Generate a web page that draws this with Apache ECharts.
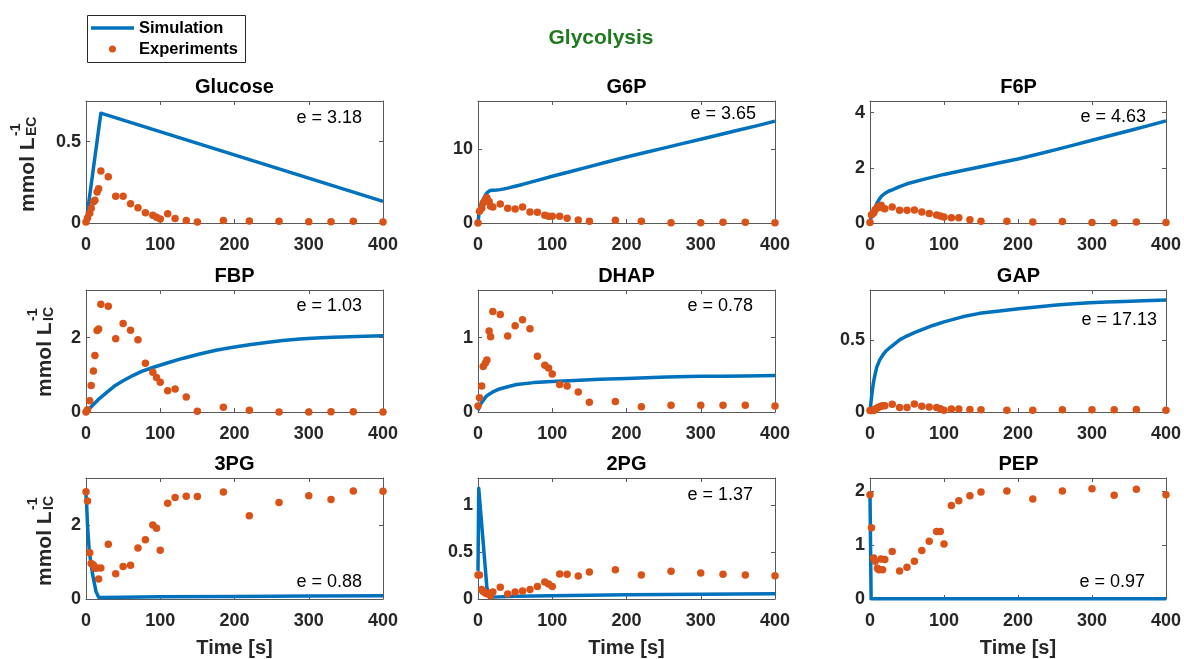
<!DOCTYPE html>
<html><head><meta charset="utf-8">
<script src="https://cdn.jsdelivr.net/npm/echarts@6/dist/echarts.min.js"></script>
<style>html,body{margin:0;padding:0;background:#fff}#c{width:1184px;height:659px}</style>
</head><body><div id="c"></div>
<script>
// ---------- DATA ----------
const expTime = [0,2,5,7,10,12,15,17,20,30,40,50,60,70,80,90,95,100,110,120,135,150,185,220,260,300,330,360,400];

const glucoseExp = [0.006,0.03,0.06,0.09,0.13,0.14,0.19,0.21,0.32,0.285,0.165,0.165,0.118,0.094,0.063,0.047,0.035,0.024,0.057,0.027,0.016,0.006,0.016,0.012,0.01,0.008,0.008,0.01,0.006];
const g6pExp = [0,1.6,2.0,2.7,3.15,3.4,2.9,2.25,2.15,2.55,2.0,1.9,2.15,1.5,1.45,1.05,0.9,0.9,0.9,0.63,0.4,0.22,0.36,0.22,0.05,0.05,0.1,0.1,0.05];
const f6pExp = [0.02,0.3,0.36,0.48,0.55,0.6,0.64,0.55,0.52,0.58,0.46,0.46,0.47,0.4,0.34,0.29,0.25,0.22,0.19,0.19,0.12,0.06,0.06,0.04,0.05,0.02,0.01,0.04,0.02];
const fbpExp = [0,0.06,0.3,0.71,1.1,1.52,2.19,2.23,2.9,2.84,1.97,2.38,2.2,1.94,1.31,1.07,0.93,0.8,0.57,0.62,0.4,0.02,0.125,0.05,0,0,0.01,0.01,0];
const dhapExp = [0.08,0.19,0.35,0.61,0.66,0.7,1.09,1.01,1.35,1.31,1.02,1.16,1.24,1.12,0.75,0.63,0.59,0.51,0.37,0.35,0.27,0.13,0.14,0.07,0.09,0.09,0.09,0.09,0.08];
const gapExp = [0.01,0.01,0.01,0.02,0.028,0.035,0.04,0.044,0.044,0.053,0.032,0.032,0.055,0.04,0.035,0.032,0.023,0.012,0.02,0.02,0.018,0.016,0.012,0.012,0.016,0.016,0.016,0.018,0.012];
const pg3Exp = [2.9,2.65,1.25,0.96,0.92,0.83,0.84,0.54,0.84,1.48,0.68,0.88,0.91,1.38,1.6,2.0,1.91,1.32,2.59,2.74,2.78,2.77,2.89,2.25,2.61,2.79,2.69,2.92,2.91];
const pg2Exp = [0.256,0.256,0.1,0.08,0.063,0.056,0.063,0.035,0.074,0.126,0.053,0.074,0.084,0.1,0.133,0.18,0.16,0.133,0.267,0.263,0.246,0.288,0.312,0.256,0.295,0.277,0.263,0.256,0.249];
const pepExp = [1.93,1.32,0.76,0.70,0.57,0.54,0.74,0.54,0.73,0.88,0.52,0.59,0.70,0.90,1.07,1.25,1.25,1.02,1.73,1.82,1.91,1.98,2.0,1.85,2.0,2.04,1.92,2.03,1.93];

const glucoseSimT = [0,20,400];
const glucoseSim  = [0,0.675,0.133];
const g6pSimT = [0,1,2,3,5,7,10,12,14,16,18,20,25,30,40,50,60,80,100,125,150,175,200,225,250,275,300,325,350,375,400];
const g6pSim  = [0,1.0,1.8,2.2,2.7,3.2,3.75,4.05,4.25,4.37,4.4,4.42,4.44,4.5,4.7,4.95,5.2,5.75,6.3,6.95,7.6,8.25,8.9,9.5,10.1,10.7,11.3,11.9,12.5,13.1,13.74];
const f6pSimT = [0,1,2,3,5,7,10,13,16,20,25,30,40,50,75,100,125,150,175,200,225,250,275,300,325,350,375,400];
const f6pSim  = [0,0.15,0.25,0.33,0.45,0.58,0.75,0.88,0.98,1.07,1.15,1.2,1.32,1.42,1.6,1.76,1.9,2.04,2.18,2.32,2.48,2.65,2.82,3.0,3.17,3.34,3.52,3.70];
const fbpSimT = [0,2,5,10,18,30,40,50,63,75,89,108,130,153,175,198,220,243,265,288,310,333,365,400];
const fbpSim  = [0,0.04,0.1,0.2,0.36,0.56,0.72,0.84,0.98,1.09,1.19,1.31,1.44,1.56,1.66,1.74,1.81,1.87,1.92,1.96,1.99,2.01,2.03,2.05];
const dhapSimT = [0,2,5,8,11,15,20,29,40,52,75,100,130,164,200,254,300,330,360,400];
const dhapSim  = [0.02,0.08,0.13,0.17,0.21,0.24,0.27,0.31,0.34,0.37,0.395,0.41,0.425,0.44,0.45,0.47,0.48,0.48,0.485,0.49];
const gapSimT = [0,1,2,3,4.5,6,9,13,18,22,27,35,40,49,60,72,85,100,125,148,175,198,225,252,275,297,320,342,370,400];
const gapSim  = [0,0.05,0.1,0.14,0.2,0.24,0.31,0.36,0.40,0.425,0.447,0.48,0.50,0.525,0.55,0.575,0.60,0.625,0.66,0.684,0.70,0.714,0.728,0.742,0.75,0.758,0.763,0.767,0.772,0.776];
const pg3SimT = [0,1,2,4.5,9,13.5,17,20,50,100,200,300,400];
const pg3Sim  = [2.83,2.5,2.0,1.27,0.65,0.2,0.05,0.04,0.05,0.06,0.07,0.08,0.09];
const pg2SimT = [0,1,12,16,20,50,100,200,300,400];
const pg2Sim  = [0.3,1.18,0.12,0.02,0.02,0.03,0.035,0.045,0.05,0.056];
const pepSimT = [0,1.5,400];
const pepSim  = [1.94,0.005,0.005];

const panelNames = ['Glucose','G6P','F6P','FBP','DHAP','GAP','3PG','2PG','PEP'];
const errorLabels = ['e = 3.18','e = 3.65','e = 4.63','e = 1.03','e = 0.78','e = 17.13','e = 0.88','e = 1.37','e = 0.97'];
const yMax  = [0.75,16.45,4.42,3.28,1.64,0.846,3.27,1.29,2.24];
const yStep = [0.5,10,2,2,1,0.5,2,0.5,1];
const xMin = 0, xMax = 400, xStep = 100;
const yLabelSubs = ['EC','IC','IC'];
const mainTitle = 'Glycolysis';
const xName = 'Time [s]';

const expSets = [glucoseExp,g6pExp,f6pExp,fbpExp,dhapExp,gapExp,pg3Exp,pg2Exp,pepExp];
const simT = [glucoseSimT,g6pSimT,f6pSimT,fbpSimT,dhapSimT,gapSimT,pg3SimT,pg2SimT,pepSimT];
const simV = [glucoseSim,g6pSim,f6pSim,fbpSim,dhapSim,gapSim,pg3Sim,pg2Sim,pepSim];

// ---------- LAYOUT / STYLE ----------
const FONT = "'Liberation Sans', Arial, Helvetica, sans-serif";
const colLeft = [86,478,870], rowTop = [101,290,478];
const GW = 297, GH = 122;
const AX = '#5a5a5a', TXT = '#262626';
const eLayout = [[-21,17],[-19,13],[-21,16],[-21,16],[-22,16],[-10,30],[-21,104],[-22,17],[-22,104]];
const yLabelBase = [[35,212],[52,397],[52,586]];

const grids=[], xAxes=[], yAxes=[], series=[], titles=[], graphics=[];
titles.push({text: mainTitle, left: 601, top: 28, textAlign:'center', padding:0,
  textStyle:{fontFamily:FONT, fontSize:21, fontWeight:'bold', color:'#1f7a1f'}});

for (let i=0;i<9;i++){
  const r = Math.floor(i/3), c = i%3;
  const L = colLeft[c], T = rowTop[r];
  grids.push({left:L, top:T, width:GW, height:GH, containLabel:false});
  const lineCfg = {show:true, onZero:false, lineStyle:{color:AX, width:1}};
  const tickCfg = {show:true, inside:true, length:4, lineStyle:{color:AX}};
  xAxes.push({type:'value', gridIndex:i, position:'bottom', min:xMin, max:xMax, interval:xStep,
    axisLine:lineCfg, axisTick:tickCfg, splitLine:{show:false},
    axisLabel:{show:true, margin:13, fontFamily:FONT, fontSize:18, fontWeight:'bold', color:TXT},
    name: r===2 ? xName : '', nameLocation:'middle', nameGap:39,
    nameTextStyle:{fontFamily:FONT, fontSize:20, fontWeight:'bold', color:TXT}});
  xAxes.push({type:'value', gridIndex:i, position:'top', min:xMin, max:xMax, interval:xStep,
    axisLine:lineCfg, axisTick:tickCfg, splitLine:{show:false}, axisLabel:{show:false}});
  yAxes.push({type:'value', gridIndex:i, position:'left', min:0, max:yMax[i], interval:yStep[i],
    axisLine:lineCfg, axisTick:tickCfg, splitLine:{show:false},
    axisLabel:{show:true, margin:5, showMaxLabel:false, fontFamily:FONT, fontSize:18, fontWeight:'bold', color:TXT}});
  yAxes.push({type:'value', gridIndex:i, position:'right', min:0, max:yMax[i], interval:yStep[i],
    axisLine:lineCfg, axisTick:tickCfg, splitLine:{show:false}, axisLabel:{show:false}});
  series.push({type:'line', name:'Simulation', xAxisIndex:2*i, yAxisIndex:2*i,
    data: simT[i].map((t,k)=>[t, simV[i][k]]), symbol:'none', smooth:false,
    clip:false, z:2,
    lineStyle:{color:'#0072BD', width:3.5, join:'round'}, itemStyle:{color:'#0072BD'}});
  series.push({type:'scatter', name:'Experiments', xAxisIndex:2*i, yAxisIndex:2*i,
    data: expTime.map((t,k)=>[t, expSets[i][k]]), symbol:'circle', symbolSize:7.5, clip:false, z:3,
    itemStyle:{color:'#D95319', opacity:1}});
  titles.push({text: panelNames[i], left: L+GW/2, top: T-24, textAlign:'center', padding:0,
    textStyle:{fontFamily:FONT, fontSize:20, fontWeight:'bold', color:'#000'}});
  graphics.push({type:'text', x: L+GW+eLayout[i][0], y: T+eLayout[i][1], z:10,
    style:{text: errorLabels[i], fill:'#000', font:'18px '+FONT, textAlign:'right', textVerticalAlign:'middle'}});
}

// y-axis labels (rotated, with stacked super/subscript)
for (let r=0;r<3;r++){
  const [bx, by] = yLabelBase[r];
  graphics.push({type:'group', x:bx, y:by, rotation:Math.PI/2, z:10, children:[
    {type:'text', x:0, y:-7, style:{text:'mmol L', fill:TXT, font:'bold 21px '+FONT, textAlign:'left', textVerticalAlign:'middle'}},
    {type:'text', x:76, y:-19, style:{text:'-1', fill:TXT, font:'bold 14px '+FONT, textAlign:'left', textVerticalAlign:'middle'}},
    {type:'text', x:76, y:-3, style:{text:yLabelSubs[r], fill:TXT, font:'bold 14px '+FONT, textAlign:'left', textVerticalAlign:'middle'}}
  ]});
}
// legend box
graphics.push({type:'rect', left:87, top:15, z:0, shape:{width:158, height:47},
  style:{fill:'#fff', stroke:'#262626', lineWidth:1}});

const chart = echarts.init(document.getElementById('c'), null, {renderer:'canvas'});
chart.setOption({
  animation:false,
  backgroundColor:'#fff',
  title: titles,
  grid: grids,
  xAxis: xAxes,
  yAxis: yAxes,
  legend: {show:true, orient:'vertical', left:91, top:19.5, padding:0, itemGap:4, itemWidth:43, itemHeight:7,
    selectedMode:false, z:20,
    data:[{name:'Simulation', icon:'path://M0,0L43,0L43,3.5L0,3.5Z'}, {name:'Experiments', icon:'circle'}],
    textStyle:{fontFamily:FONT, fontSize:16.5, fontWeight:'bold', color:'#000', lineHeight:17}},
  graphic: graphics,
  series: series
});
</script></body></html>
